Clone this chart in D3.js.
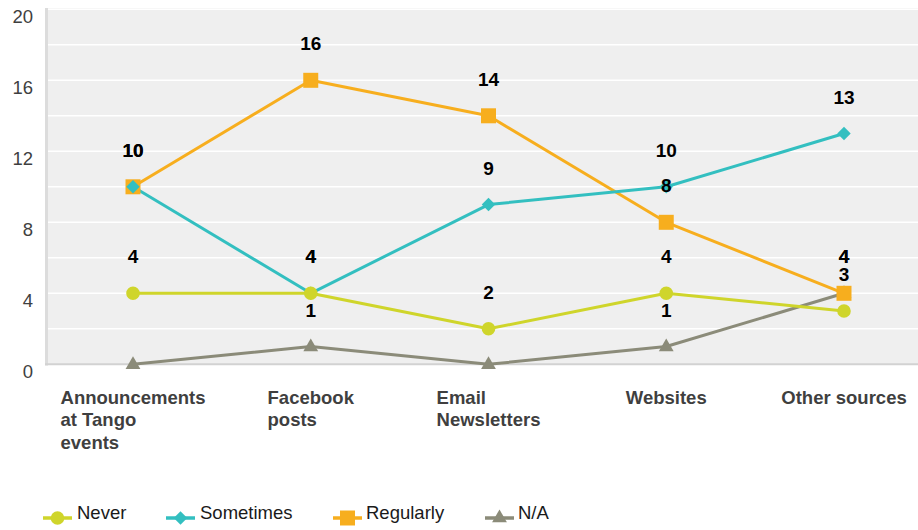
<!DOCTYPE html>
<html>
<head>
<meta charset="utf-8">
<script src="https://cdn.jsdelivr.net/npm/d3@7"></script>
<style>
  html, body { margin: 0; padding: 0; background: #fff; }
  svg { display: block; font-family: "Liberation Sans", Arial, sans-serif; }
</style>
</head>
<body>
<svg id="chart" width="918" height="530"></svg>
<script>
// ---- Data ----
const categories = [
  ["Announcements", "at Tango", "events"],
  ["Facebook", "posts"],
  ["Email", "Newsletters"],
  ["Websites"],
  ["Other sources"]
];
const categoryKeys = ["Announcements at Tango events", "Facebook posts", "Email Newsletters", "Websites", "Other sources"];
const seriesNames = ["Never", "Sometimes", "Regularly", "N/A"];
const neverValues = [4, 4, 2, 4, 3];
const sometimesValues = [10, 4, 9, 10, 13];
const regularlyValues = [10, 16, 14, 8, 4];
const naValues = [0, 1, 0, 1, 4];
const yTicks = [0, 4, 8, 12, 16, 20];

// ---- Styles ----
const colors = { "Never": "#cfd52b", "Sometimes": "#33bfc0", "Regularly": "#f7ae1e", "N/A": "#8b8b79" };
const seriesValues = { "Never": neverValues, "Sometimes": sometimesValues, "Regularly": regularlyValues, "N/A": naValues };

const svg = d3.select("#chart");

const x = d3.scalePoint().domain(categoryKeys).range([133, 844]);
const y = d3.scaleLinear().domain([0, 20]).range([364.3, 9.3]);

// plot background
svg.append("rect").attr("x", 46).attr("y", 8).attr("width", 918 - 46).attr("height", 364.3 - 8)
  .attr("fill", "#efefef");

// gridlines every 2
const gridVals = d3.range(2, 21, 2);
svg.append("g").selectAll("line").data(gridVals).join("line")
  .attr("x1", 47).attr("x2", 918)
  .attr("y1", d => y(d)).attr("y2", d => y(d))
  .attr("stroke", "#ffffff").attr("stroke-width", 1.5);

// left border
svg.append("line").attr("x1", 46.5).attr("x2", 46.5).attr("y1", 8).attr("y2", 365.5)
  .attr("stroke", "#dcdcdc").attr("stroke-width", 3);
// bottom axis line
svg.append("line").attr("x1", 45).attr("x2", 918).attr("y1", y(0)).attr("y2", y(0))
  .attr("stroke", "#d2d2d2").attr("stroke-width", 2);

// y tick labels
svg.append("g").selectAll("text").data(yTicks).join("text")
  .attr("x", 33).attr("y", d => y(d) + 13.5)
  .attr("text-anchor", "end")
  .attr("font-size", "18.5px").attr("fill", "#3f3f3f")
  .text(d => d);

// category labels (lines left-aligned, block centered)
categories.forEach((lines, i) => {
  const cx = x(categoryKeys[i]);
  const g = svg.append("g");
  const t = g.append("text").attr("font-size", "18.5px").attr("font-weight", "bold").attr("fill", "#3f3f3f");
  lines.forEach((ln, j) => {
    t.append("tspan").attr("x", 0).attr("y", 403.5 + j * 22.5).text(ln);
  });
  let maxW = 0;
  t.selectAll("tspan").each(function () { maxW = Math.max(maxW, this.getComputedTextLength()); });
  g.attr("transform", `translate(${cx - maxW / 2},0)`);
});

// symbols
function markerPath(name) {
  if (name === "Never") return d3.symbol().type(d3.symbolCircle).size(Math.PI * 6.8 * 6.8)();
  if (name === "Sometimes") return d3.symbol().type(d3.symbolDiamond2).size(115)();
  if (name === "Regularly") return d3.symbol().type(d3.symbolSquare).size(15 * 15)();
  return d3.symbol().type(d3.symbolTriangle).size(95)();
}
function markerTransform(name, px, py) {
  return `translate(${px},${py})`;
}

const line = d3.line().x((d, i) => x(categoryKeys[i])).y(d => y(d));
const drawOrder = ["N/A", "Regularly", "Sometimes", "Never"];

drawOrder.forEach(name => {
  svg.append("path").datum(seriesValues[name])
    .attr("d", line).attr("fill", "none")
    .attr("stroke", colors[name]).attr("stroke-width", 3)
    .attr("stroke-linejoin", "round");
});
drawOrder.forEach(name => {
  svg.append("g").selectAll("path").data(seriesValues[name]).join("path")
    .attr("d", markerPath(name))
    .attr("transform", (d, i) => markerTransform(name, x(categoryKeys[i]), y(d) + (name === "N/A" ? 0.5 : 0)))
    .attr("fill", colors[name]);
});

// data labels (skip zeros)
drawOrder.forEach(name => {
  svg.append("g").selectAll("text").data(seriesValues[name].map((v, i) => ({ v, i })).filter(d => d.v !== 0)).join("text")
    .attr("x", d => x(categoryKeys[d.i]))
    .attr("y", d => y(d.v) - 37 + 7)
    .attr("text-anchor", "middle")
    .attr("font-size", "19px").attr("font-weight", "bold").attr("fill", "#000")
    .text(d => d.v);
});

// legend
const legendItems = [
  { name: "Never", x0: 43, tx: 77 },
  { name: "Sometimes", x0: 166, tx: 200 },
  { name: "Regularly", x0: 333, tx: 366 },
  { name: "N/A", x0: 485, tx: 518 }
];
const lg = svg.append("g");
legendItems.forEach(it => {
  lg.append("line").attr("x1", it.x0).attr("x2", it.x0 + 29).attr("y1", 518).attr("y2", 518)
    .attr("stroke", colors[it.name]).attr("stroke-width", 3.5);
  lg.append("path").attr("d", markerPath(it.name))
    .attr("transform", markerTransform(it.name, it.x0 + 14.5, 518))
    .attr("fill", colors[it.name]);
  lg.append("text").attr("x", it.tx).attr("y", 519)
    .attr("font-size", "18.5px").attr("fill", "#1a1a1a").text(it.name);
});
</script>
</body>
</html>
